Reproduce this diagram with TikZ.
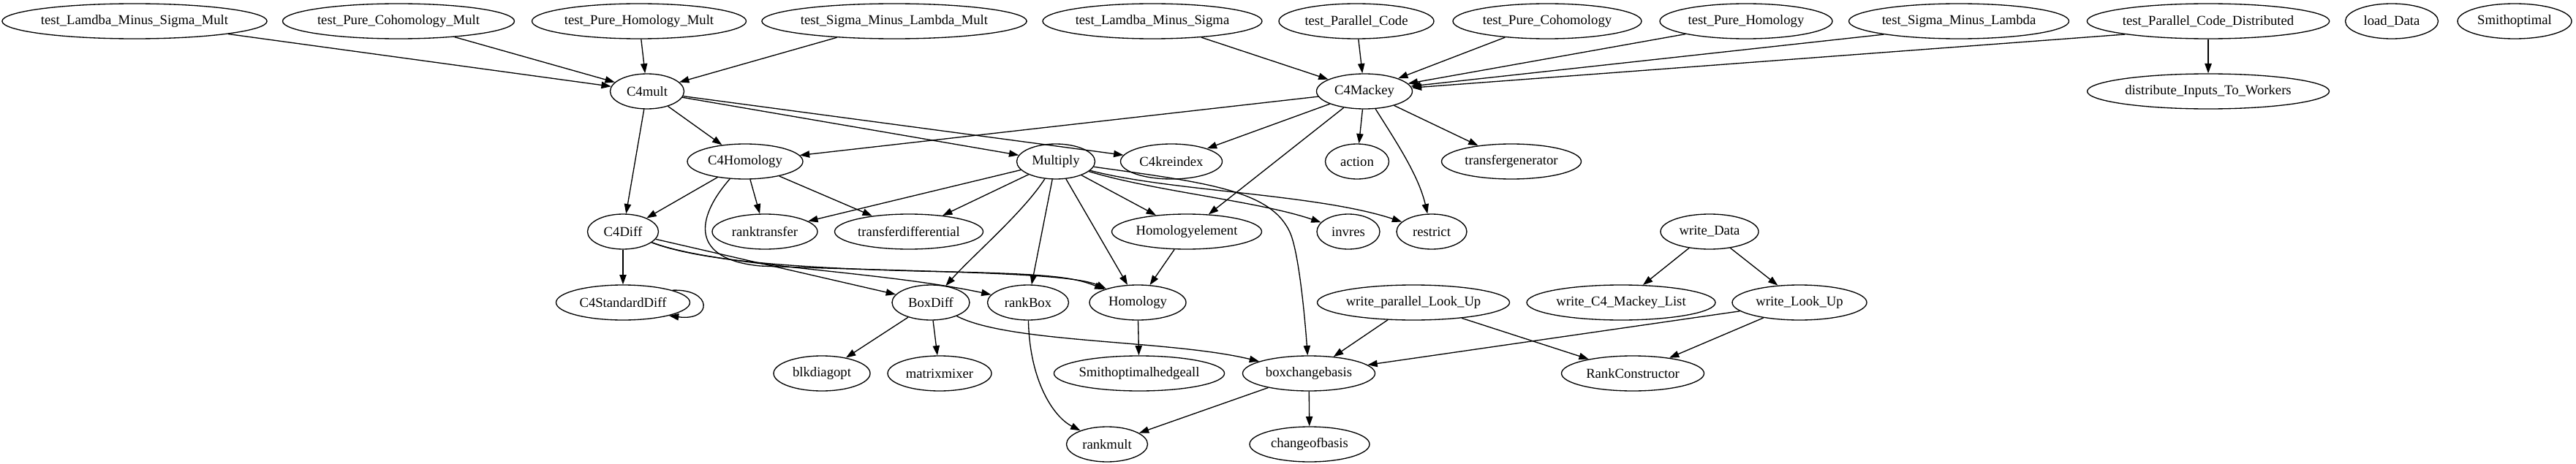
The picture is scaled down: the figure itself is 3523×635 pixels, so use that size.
\documentclass[tikz,border=0pt]{standalone}
\usepackage{fontspec}
\setmainfont{Liberation Serif}
\usetikzlibrary{shapes.geometric,arrows.meta}

\begin{document}
\begin{tikzpicture}[x=0.75pt,y=-0.75pt,
  fn/.style={draw,ellipse,line width=1pt,inner sep=0pt,minimum height=36pt,
    minimum width=#1*0.75pt,font=\fontsize{14}{16}\selectfont},
  calls/.style={-{Triangle[length=10pt,width=7pt]},line width=1pt}]
\useasboundingbox (0,0) rectangle (3523,635);
% Test drivers (top row)
\node[fn=355] (tLMSM) at (184,29) {test\_Lamdba\_Minus\_Sigma\_Mult};
\node[fn=317] (tPCM) at (545,29) {test\_Pure\_Cohomology\_Mult};
\node[fn=293] (tPHM) at (874,29) {test\_Pure\_Homology\_Mult};
\node[fn=356] (tSMLM) at (1223,29) {test\_Sigma\_Minus\_Lambda\_Mult};
\node[fn=300] (tLMS) at (1576,29) {test\_Lamdba\_Minus\_Sigma};
\node[fn=212] (tPC) at (1855,29) {test\_Parallel\_Code};
\node[fn=258] (tPCo) at (2116,29) {test\_Pure\_Cohomology};
\node[fn=236] (tPH) at (2388,29) {test\_Pure\_Homology};
\node[fn=301] (tSML) at (2679,29) {test\_Sigma\_Minus\_Lambda};
\node[fn=331] (tPCD) at (3020,29) {test\_Parallel\_Code\_Distributed};
\node[fn=127] (loadData) at (3271,29) {load\_Data};
\node[fn=156] (smithopt) at (3439,29) {Smithoptimal};
% Second row
\node[fn=101] (C4mult) at (885,125) {C4mult};
\node[fn=131] (C4Mackey) at (1866,125) {C4Mackey};
\node[fn=331] (distribute) at (3020,125) {distribute\_Inputs\_To\_Workers};
% Third row
\node[fn=158] (C4Homology) at (1019,221) {C4Homology};
\node[fn=107] (Multiply) at (1444,221) {Multiply};
\node[fn=139] (C4kreindex) at (1602,221) {C4kreindex};
\node[fn=87] (action) at (1856,221) {action};
\node[fn=191] (transfergen) at (2067,221) {transfergenerator};
% Fourth row
\node[fn=97] (C4Diff) at (852,317) {C4Diff};
\node[fn=144] (ranktransfer) at (1046,317) {ranktransfer};
\node[fn=203] (transferdiff) at (1243,317) {transferdifferential};
\node[fn=205] (Homologyelement) at (1623,317) {Homologyelement};
\node[fn=86] (invres) at (1844,317) {invres};
\node[fn=96] (restrict) at (1958,317) {restrict};
\node[fn=134] (writeData) at (2338,317) {write\_Data};
% Fifth row
\node[fn=183] (C4StandardDiff) at (852,414) {C4StandardDiff};
\node[fn=106] (BoxDiff) at (1273,414) {BoxDiff};
\node[fn=111] (rankBox) at (1406,414) {rankBox};
\node[fn=132] (Homology) at (1556,414) {Homology};
\node[fn=263] (writeParLU) at (1933,414) {write\_parallel\_Look\_Up};
\node[fn=258] (writeC4ML) at (2217,414) {write\_C4\_Mackey\_List};
\node[fn=184] (writeLU) at (2461,414) {write\_Look\_Up};
% Sixth row
\node[fn=132] (blkdiagopt) at (1124,511) {blkdiagopt};
\node[fn=142] (matrixmixer) at (1285,511) {matrixmixer};
\node[fn=232] (smithhedge) at (1558,511) {Smithoptimalhedgeall};
\node[fn=181] (boxchangebasis) at (1790,511) {boxchangebasis};
\node[fn=195] (RankConstructor) at (2233,511) {RankConstructor};
% Bottom row
\node[fn=111] (rankmult) at (1514,608) {rankmult};
\node[fn=164] (changeofbasis) at (1791,608) {changeofbasis};
% Calls into C4mult
\draw[calls] (tLMSM) -- (C4mult);
\draw[calls] (tPCM) -- (C4mult);
\draw[calls] (tPHM) -- (C4mult);
\draw[calls] (tSMLM) -- (C4mult);
% Calls into C4Mackey
\draw[calls] (tLMS) -- (C4Mackey);
\draw[calls] (tPC) -- (C4Mackey);
\draw[calls] (tPCo) -- (C4Mackey);
\draw[calls] (tPH.192) -- (C4Mackey);
\draw[calls] (tSML.190) -- (C4Mackey);
\draw[calls] (tPCD.189) -- (C4Mackey);
\draw[calls] (tPCD) -- (distribute);
% C4mult
\draw[calls] (C4mult) -- (C4Diff);
\draw[calls] (C4mult) -- (C4Homology);
\draw[calls] (C4mult) -- (Multiply);
\draw[calls] (C4mult) -- (C4kreindex);
% C4Mackey
\draw[calls] (C4Mackey) -- (C4Homology);
\draw[calls] (C4Mackey) -- (C4kreindex);
\draw[calls] (C4Mackey) -- (Homologyelement);
\draw[calls] (C4Mackey) -- (action);
\draw[calls] (C4Mackey) -- (transfergen);
\draw[calls] (C4Mackey) .. controls (1910,195) and (1940,240) .. (restrict);
% C4Homology
\draw[calls] (C4Homology) -- (C4Diff);
\draw[calls] (C4Homology) -- (ranktransfer);
\draw[calls] (C4Homology) -- (transferdiff);
\draw[calls] (C4Homology) .. controls (950,300) and (945,355) .. (1040,364)
  .. controls (1250,372) and (1460,372) .. (Homology);
% C4Diff
\draw[calls] (C4Diff) -- (C4StandardDiff);
\draw[calls] (C4Diff) -- (BoxDiff);
\draw[calls] (C4Diff) .. controls (980,365) and (1200,370) .. (rankBox);
\draw[calls] (C4Diff) .. controls (960,358) and (1100,368) .. (1300,372)
  .. controls (1440,375) and (1470,380) .. (Homology);
\draw[calls] (C4StandardDiff.14) .. controls (975,395) and (975,440) .. (C4StandardDiff.-16);
% Multiply
\draw[calls] (Multiply) -- (ranktransfer);
\draw[calls] (Multiply) -- (transferdiff);
\draw[calls] (Multiply) -- (Homologyelement);
\draw[calls] (Multiply) -- (rankBox);
\draw[calls] (Multiply) -- (Homology);
\draw[calls] (Multiply) .. controls (1400,290) and (1330,350) .. (BoxDiff);
\draw[calls] (Multiply) .. controls (1580,262) and (1720,275) .. (invres);
\draw[calls] (Multiply) .. controls (1600,262) and (1800,265) .. (restrict);
\draw[calls] (Multiply) .. controls (1650,250) and (1740,260) .. (1765,320)
  .. controls (1777,350) and (1785,440) .. (boxchangebasis);
\draw[calls] (Homologyelement) -- (Homology);
% Lower calls
\draw[calls] (BoxDiff) -- (blkdiagopt);
\draw[calls] (BoxDiff) -- (matrixmixer);
\draw[calls] (BoxDiff) .. controls (1380,470) and (1600,465) .. (boxchangebasis);
\draw[calls] (rankBox) .. controls (1408,520) and (1440,570) .. (rankmult);
\draw[calls] (Homology) -- (smithhedge);
\draw[calls] (writeParLU) -- (boxchangebasis);
\draw[calls] (writeParLU) -- (RankConstructor);
\draw[calls] (writeData) -- (writeC4ML);
\draw[calls] (writeData) -- (writeLU);
\draw[calls] (writeLU) -- (boxchangebasis);
\draw[calls] (writeLU) -- (RankConstructor);
\draw[calls] (boxchangebasis) -- (rankmult);
\draw[calls] (boxchangebasis) -- (changeofbasis);
\end{tikzpicture}
\end{document}
